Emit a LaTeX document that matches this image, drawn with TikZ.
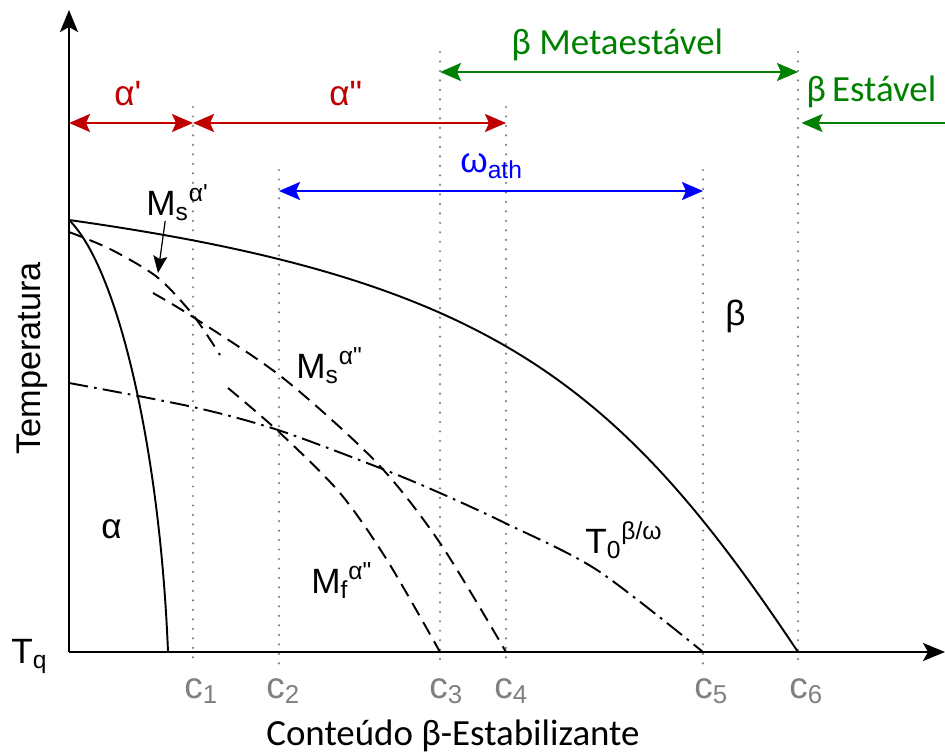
\documentclass[tikz,border=0pt]{standalone}
\usepackage{fontspec}
\setmainfont{Liberation Sans}[Ligatures=TeXOff]
\newfontfamily\carlito{Carlito}
\usepackage{xcolor}
\usetikzlibrary{arrows.meta}
\usetikzlibrary{positioning}

\definecolor{faseverm}{HTML}{C00000}
\definecolor{faseverde}{HTML}{008000}
\definecolor{faseazul}{HTML}{0000FF}
\definecolor{cinza}{HTML}{808080}

\newcommand{\sq}{\symbol{39}}
\newcommand{\dq}{\symbol{34}}

\tikzset{
  eixo/.style={line width=1.4pt, -{Stealth[length=0.44cm,width=0.36cm,inset=0.1cm]}},
  curva/.style={line width=1.1pt},
  tracejada/.style={line width=1.1pt, dash pattern=on 8pt off 4.5pt},
  tracoponto/.style={line width=1.1pt, dash pattern=on 11pt off 3.5pt on 1.5pt off 3.5pt},
  pontilhada/.style={cinza, line width=1.4pt, line cap=round, dash pattern=on 0pt off 5.4pt},
  faixa/.style={line width=1.1pt, {Stealth[length=0.42cm,width=0.36cm,inset=0.08cm]}-{Stealth[length=0.42cm,width=0.36cm,inset=0.08cm]}},
  faixaum/.style={line width=1.1pt, -{Stealth[length=0.42cm,width=0.36cm,inset=0.08cm]}},
  seta/.style={line width=0.7pt, -{Stealth[length=0.34cm,width=0.28cm,inset=0.06cm]}},
  rotulo/.style={font=\fontsize{20}{24}\selectfont, inner sep=0pt, anchor=base west},
  verde/.style={faseverde, font=\carlito\fontsize{21}{24}\selectfont, inner sep=0pt, anchor=base west},
  crot/.style={cinza, font=\fontsize{21}{24}\selectfont, inner sep=0pt, anchor=base west}
}

\begin{document}
\begin{tikzpicture}[x=0.02cm, y=-0.02cm]
    \useasboundingbox (0,0) rectangle (945,753);
    % pontos de referencia
    \coordinate (O) at (69,652);
    \coordinate (ytop) at (69,10);
    \coordinate (xend) at (945,652);
    \coordinate (c1) at (193,652);
    \coordinate (c2) at (279,652);
    \coordinate (c3) at (440,652);
    \coordinate (c4) at (506,652);
    \coordinate (c5) at (703,652);
    \coordinate (c6) at (798,652);
    \coordinate (hA) at (0,52);
    \coordinate (hB) at (0,107);
    \coordinate (hC) at (0,170);
    \coordinate (hD) at (0,665);
    \coordinate (lv1) at (0,72);
    \coordinate (lv2) at (0,123);
    \coordinate (lv3) at (0,191);

    % linhas verticais
    \draw[pontilhada] (c1 |- hB) -- (c1 |- hD);
    \draw[pontilhada] (c2 |- hC) -- (c2 |- hD);
    \draw[pontilhada] (c3 |- hA) -- (c3 |- hD);
    \draw[pontilhada] (c4 |- hB) -- (c4 |- hD);
    \draw[pontilhada] (c5 |- hC) -- (c5 |- hD);
    \draw[pontilhada] (c6 |- hA) -- (c6 |- hD);

    % curvas
    \draw[curva] (69,220) .. controls (489,279) and (618,382) .. (c6);
    \draw[curva] (69,220) .. controls (118,268) and (160,450) .. (168,652);
    \draw[tracejada] plot[smooth] coordinates {(69,232) (110,249) (157,277) (193,315) (220,355)};
    \draw[tracejada] plot[smooth] coordinates {(153,293) (193,317) (283,378) (377,463) (440,543) (506,652)};
    \draw[tracejada] plot[smooth] coordinates {(228,388) (279,432) (340,493) (387,560) (440,652)};
    \draw[tracoponto] plot[smooth] coordinates {(69,383) (193,407) (278,430) (380,468) (440,493) (505,523) (597,570) (703,652)};

    % eixos
    \draw[eixo] (O) -- (ytop);
    \draw[eixo] (O) -- (xend);

    % faixas
    \draw[faixa, faseverm] (O |- lv2) -- (c1 |- lv2);
    \draw[faixa, faseverm] (c1 |- lv2) -- (c4 |- lv2);
    \draw[faixa, faseazul] (c2 |- lv3) -- (c5 |- lv3);
    \draw[faixa, faseverde] (c3 |- lv1) -- (c6 |- lv1);
    \draw[faixaum, faseverde] (xend |- lv2) -- ([xshift=2]c6 |- lv2);

    % rotulos das faixas
    \node[rotulo, faseverm] (aprime) at (114,106) {α\sq};
    \node[rotulo, faseverm] (adprime) at (329,106) {α\dq};
    \node[rotulo, faseazul] (wath) at (460,173) {ω\textsubscript{ath}};
    \node[verde] (bmeta) at (511,55) {β\ Metaestável};
    \node[verde] (best) at (806,102) {β\,Estável};

    % rotulos das curvas
    \node[rotulo] (msa) at (146,215) {M\textsubscript{s}\textsuperscript{α\sq}};
    \node[rotulo] (msb) at (296,378) {M\textsubscript{s}\textsuperscript{α\dq}};
    \node[rotulo] (mfb) at (311,593) {M\textsubscript{f}\textsuperscript{α\dq}};
    \node[rotulo] (tzero) at (585,553) {T\textsubscript{0}\textsuperscript{β/ω}};
    \node[rotulo] (beta) at (725,325) {β};
    \node[rotulo] (alfa) at (101,538) {α};
    \coordinate (ptr) at (158,273);
    \draw[seta] ([xshift=-7]msa.south) -- (ptr);

    % eixo x
    \node[rotulo] (tq) at (11,663) {T\textsubscript{q}};
    \node[crot] (l1) at (184,698) {c\textsubscript{1}};
    \node[crot] (l2) at (266,698) {c\textsubscript{2}};
    \node[crot] (l3) at (429,698) {c\textsubscript{3}};
    \node[crot] (l4) at (494,698) {c\textsubscript{4}};
    \node[crot] (l5) at (694,698) {c\textsubscript{5}};
    \node[crot] (l6) at (789,698) {c\textsubscript{6}};
    \node[rotulo, font=\carlito\fontsize{21}{24}\selectfont] (xlab) at (266,745) {Conteúdo β-Estabilizante};
    \node[rotulo, font=\fontsize{19.5}{24}\selectfont, rotate=90] (ylab) at (40,455) {Temperatura};
\end{tikzpicture}
\end{document}
